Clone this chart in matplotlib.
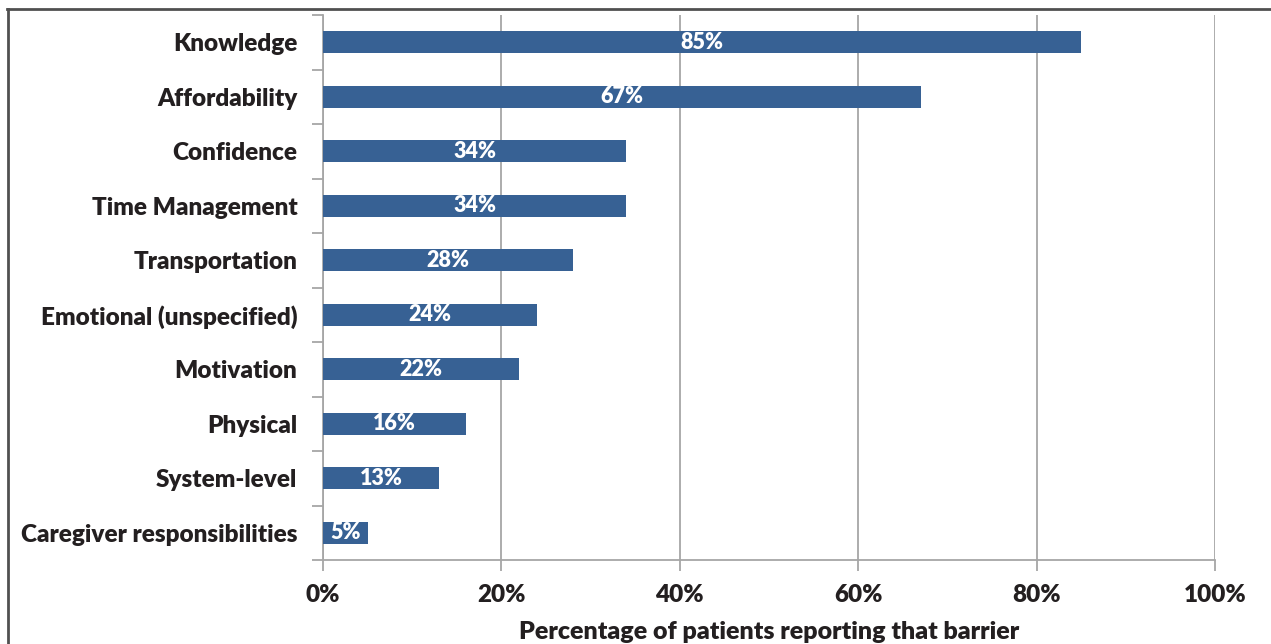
import matplotlib
matplotlib.use("Agg")
import matplotlib.pyplot as plt
from matplotlib.lines import Line2D
import numpy as np

categories = ["Knowledge", "Affordability", "Confidence", "Time Management",
              "Transportation", "Emotional (unspecified)", "Motivation",
              "Physical", "System-level", "Caregiver responsibilities"]
values = [85, 67, 34, 34, 28, 24, 22, 16, 13, 5]
xticks = [0, 20, 40, 60, 80, 100]
xticklabels = ["0%", "20%", "40%", "60%", "80%", "100%"]

plt.rcParams['font.family'] = ['Lato', 'DejaVu Sans']
W = "heavy"

fig = plt.figure(figsize=(12.71, 6.44), dpi=100)
ax = fig.add_axes([323/1271, 1-560/644, (1215-323)/1271, (560-15)/644])

bar_color = "#376194"
grid_color = "#A6A6A6"
text_color = "#231F20"

y = np.arange(len(categories))
ax.barh(y, values, height=0.4, color=bar_color, zorder=3)
for yi, v in zip(y, values):
    ax.text(v/2, yi, f"{v}%", ha="center", va="center", color="white",
            fontsize=15.5, fontweight=W, zorder=4)

ax.set_xlim(0, 100)
ax.set_ylim(len(categories)-0.5, -0.5)
ax.set_xticks(xticks)
ax.set_xticklabels(xticklabels, fontsize=17.5, fontweight=W, color=text_color)
ax.set_yticks(np.arange(len(categories)+1) - 0.5)
ax.set_yticklabels([])
ax.set_yticks(y, minor=True)
ax.set_yticklabels(categories, minor=True, fontsize=17.5, fontweight=W, color=text_color)
ax.tick_params(axis="y", which="minor", length=0, pad=18.5)
ax.tick_params(axis="y", which="major", length=8, color=grid_color, width=1.3)
ax.tick_params(axis="x", length=8, color=grid_color, width=1.3, pad=9)

ax.xaxis.grid(True, color=grid_color, linewidth=1.3, zorder=0)
ax.set_axisbelow(True)
for s in ["top", "right"]:
    ax.spines[s].set_visible(False)
for s in ["left", "bottom"]:
    ax.spines[s].set_color(grid_color)
    ax.spines[s].set_linewidth(1.3)

ax.set_xlabel("Percentage of patients reporting that barrier", fontsize=18,
              fontweight=W, color=text_color, labelpad=11)

# figure frame (top and left edges)
fig.add_artist(Line2D([7/1271, 1], [1-8.5/644, 1-8.5/644], transform=fig.transFigure,
                      color="#505050", linewidth=2))
fig.add_artist(Line2D([7.5/1271, 7.5/1271], [0, 1-8.5/644], transform=fig.transFigure,
                      color="#505050", linewidth=2))

fig.savefig("out.png", dpi=100)
